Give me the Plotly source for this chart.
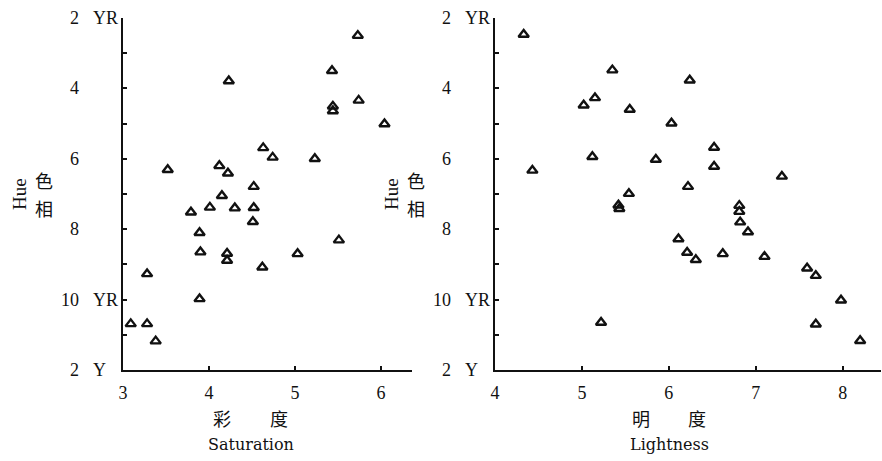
import plotly.graph_objects as go

# ---- data ----
saturation = [5.73, 5.43, 4.23, 5.74, 5.44, 5.44, 6.04, 4.63, 4.74, 5.23, 3.52, 4.12,
              4.22, 4.52, 4.15, 4.01, 4.30, 4.52, 3.79, 4.51, 3.89, 3.90, 4.21, 4.21,
              5.51, 5.03, 4.62, 3.28, 3.89, 3.09, 3.28, 3.38]
hue_sat = [2.50, 3.50, 3.79, 4.34, 4.51, 4.64, 5.01, 5.69, 5.96, 6.00, 6.31, 6.20,
           6.41, 6.79, 7.05, 7.38, 7.40, 7.39, 7.52, 7.79, 8.10, 8.65, 8.69, 8.89,
           8.31, 8.70, 9.08, 9.27, 9.98, 10.69, 10.69, 11.18]

lightness = [4.33, 5.35, 6.24, 5.15, 5.02, 5.55, 6.03, 6.52, 5.12, 5.85, 6.52, 4.43,
             7.30, 6.22, 5.54, 5.42, 5.43, 6.81, 6.81, 6.82, 6.91, 6.11, 6.21, 6.31,
             6.62, 7.10, 7.59, 7.69, 7.98, 5.22, 7.69, 8.20]
hue_light = [2.47, 3.48, 3.77, 4.27, 4.48, 4.60, 4.99, 5.68, 5.94, 6.02, 6.22, 6.33,
             6.50, 6.79, 6.99, 7.32, 7.42, 7.33, 7.50, 7.80, 8.08, 8.28, 8.66, 8.87,
             8.70, 8.78, 9.11, 9.32, 10.02, 10.65, 10.70, 11.17]

hue_tick_vals = [2, 4, 6, 8, 10, 12]
hue_tick_nums = ["2", "4", "6", "8", "10", "2"]
hue_tick_suffix = ["YR", "", "", "", "YR", "Y"]
hue_minor_vals = [3, 5, 7, 9, 11]

sat_ticks = [3, 4, 5, 6]
light_ticks = [4, 5, 6, 7, 8]

W, H = 882, 461
SERIF = "Liberation Serif, Times New Roman, serif"
WSERIF = "DejaVu Serif, serif"
CJK = "Noto Sans CJK SC"
INK = "#111111"

fig = go.Figure()
marker = dict(symbol="triangle-up-open", size=9, color=INK, line=dict(width=2.4, color=INK))
fig.add_trace(go.Scatter(x=saturation, y=hue_sat, mode="markers", marker=marker,
                         xaxis="x", yaxis="y", showlegend=False, hoverinfo="skip"))
fig.add_trace(go.Scatter(x=lightness, y=hue_light, mode="markers", marker=marker,
                         xaxis="x2", yaxis="y2", showlegend=False, hoverinfo="skip"))

px = lambda v: v / W
py = lambda v: (H - v) / H

xcommon = dict(showgrid=False, zeroline=False, showline=True, linecolor=INK, linewidth=2,
               ticks="inside", ticklen=4, tickwidth=2, tickcolor=INK, automargin=False,
               tickfont=dict(family=SERIF, size=18, color=INK), ticklabelstandoff=5)
ycommon = dict(showgrid=False, zeroline=False, showline=True, linecolor=INK, linewidth=2,
               ticks="inside", ticklen=4, tickwidth=2, tickcolor=INK, automargin=False,
               tickvals=hue_tick_vals + hue_minor_vals, showticklabels=False,
               range=[12, 2], autorange=False)

fig.update_layout(
    width=W, height=H, margin=dict(l=0, r=0, t=0, b=0),
    paper_bgcolor="white", plot_bgcolor="white",
    xaxis=dict(domain=[px(123), px(412)], range=[3, 6.36], tickvals=sat_ticks,
               anchor="y", **xcommon),
    yaxis=dict(domain=[py(370), py(18)], anchor="x", **ycommon),
    xaxis2=dict(domain=[px(495), px(881)], range=[4, 8.44], tickvals=light_ticks,
                anchor="y2", **xcommon),
    yaxis2=dict(domain=[py(370), py(18)], anchor="x2", **ycommon),
)

ann = []
for yref, off in (("y", 0), ("y2", 372)):
    for v, n, s in zip(hue_tick_vals, hue_tick_nums, hue_tick_suffix):
        ann.append(dict(x=px(81 + off), y=v, xref="paper", yref=yref, text=n,
                        xanchor="right", yanchor="middle", showarrow=False,
                        font=dict(family=SERIF, size=18, color=INK)))
        if s:
            ann.append(dict(x=px(91 + off), y=v, xref="paper", yref=yref, text=s,
                            xanchor="left", yanchor="middle", showarrow=False,
                            font=dict(family=SERIF, size=18, color=INK)))
    # y-axis titles
    ann.append(dict(x=px(20 + off), y=py(194), xref="paper", yref="paper", text="Hue",
                    textangle=-90, showarrow=False, xanchor="center", yanchor="middle",
                    font=dict(family=SERIF, size=19, color=INK)))
    ann.append(dict(x=px(44 + off), y=py(180), xref="paper", yref="paper", text="色",
                    showarrow=False, xanchor="center", yanchor="middle",
                    font=dict(family=CJK, size=18, color=INK)))
    ann.append(dict(x=px(44 + off), y=py(208), xref="paper", yref="paper", text="相",
                    showarrow=False, xanchor="center", yanchor="middle",
                    font=dict(family=CJK, size=18, color=INK)))

# x-axis titles
for cx1, cx2, c1, c2, en, cen in ((222, 279, "彩", "度", "Saturation", 251),
                                  (641, 697, "明", "度", "Lightness", 669)):
    ann.append(dict(x=px(cx1), y=py(418), xref="paper", yref="paper", text=c1,
                    showarrow=False, xanchor="center", yanchor="middle",
                    font=dict(family=CJK, size=18, color=INK)))
    ann.append(dict(x=px(cx2), y=py(418), xref="paper", yref="paper", text=c2,
                    showarrow=False, xanchor="center", yanchor="middle",
                    font=dict(family=CJK, size=18, color=INK)))
    ann.append(dict(x=px(cen), y=py(444), xref="paper", yref="paper", text=en,
                    showarrow=False, xanchor="center", yanchor="middle",
                    font=dict(family=WSERIF, size=16, color=INK)))

fig.update_layout(annotations=ann)
fig.write_html("out.html", config={"displayModeBar": False},
               post_script="document.body.style.margin='0';document.body.style.overflow='hidden';")
